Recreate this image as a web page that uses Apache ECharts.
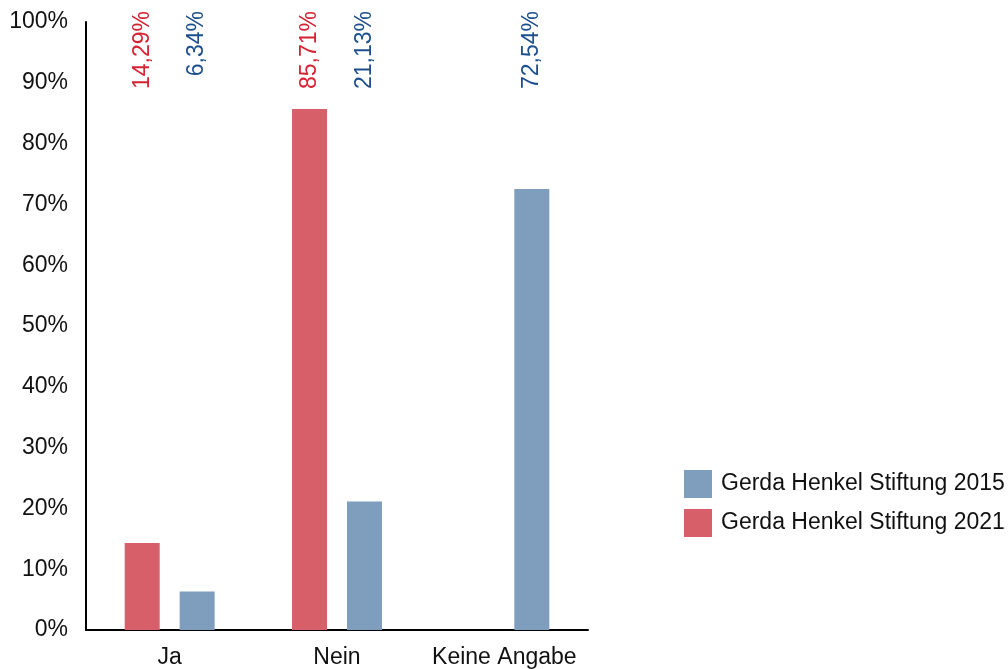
<!DOCTYPE html>
<html>
  <head>
    <meta charset="utf-8" />
    <title>Gerda Henkel Stiftung</title>
    <script src="https://cdn.jsdelivr.net/npm/echarts@6/dist/echarts.min.js"></script>
    <style>
      * {
        margin: 0;
        padding: 0;
        box-sizing: border-box;
      }
    </style>
  </head>
  <body>
    <div id="main" style="width: 1008px; height: 669px"></div>
    <script type="text/javascript">
      var myChart = echarts.init(document.getElementById("main"));

      const categories = ["Ja", "Nein", "Keine Angabe"];
      const values2021 = [14.29, 85.71, null];
      const values2015 = [6.34, 21.13, 72.54];
      const labelTop = [100, 100, 100]; // unsichtbare Träger für die Beschriftung oben
      const yTicks = [0, 10, 20, 30, 40, 50, 60, 70, 80, 90, 100];

      const font = "Liberation Sans, Arial, sans-serif";
      const red = "#d75f6a";
      const blue = "#7f9ebd";
      const redText = "#d42333";
      const blueText = "#1d4f8c";

      const fmt = (v) => v.toFixed(2).replace(".", ",") + "%";

      function labelSeries(name, src, color) {
        return {
          name: name + "_label",
          type: "bar",
          xAxisIndex: 1,
          barWidth: 35,
          barGap: "57%",
          silent: true,
          itemStyle: { color: "transparent" },
          label: {
            show: true,
            position: "insideTop",
            rotate: 90,
            align: "right",
            verticalAlign: "middle",
            distance: -11,
            color: color,
            fontSize: 23,
            fontFamily: font,
            formatter: (p) => (src[p.dataIndex] == null ? "" : fmt(src[p.dataIndex])),
          },
          data: labelTop.map((v, i) => (src[i] == null ? null : v)),
        };
      }

      var option = {
        animation: false,
        grid: { left: 86, right: 420, top: 22, bottom: 39 },
        legend: {
          orient: "vertical",
          left: 679,
          top: 465,
          itemWidth: 28,
          itemHeight: 28,
          itemGap: 11,
          icon: "rect",
          data: ["Gerda Henkel Stiftung 2015", "Gerda Henkel Stiftung 2021"],
          textStyle: {
            fontSize: 23,
            fontFamily: font,
            color: "#111",
            padding: [2, 0, 0, 4],
          },
        },
        xAxis: [
          {
            type: "category",
            data: categories,
            axisLine: { lineStyle: { color: "#000", width: 2 } },
            axisTick: { show: false },
            axisLabel: {
              interval: 0,
              fontSize: 23,
              fontFamily: font,
              color: "#111",
              margin: 16,
            },
          },
          {
            type: "category",
            data: categories,
            show: false,
          },
        ],
        yAxis: {
          type: "value",
          min: yTicks[0],
          max: yTicks[yTicks.length - 1],
          interval: 10,
          axisLine: { show: true, lineStyle: { color: "#000", width: 2 } },
          axisTick: { show: false },
          splitLine: { show: false },
          axisLabel: {
            formatter: "{value}%",
            fontSize: 23,
            fontFamily: font,
            color: "#111",
            margin: 18,
          },
        },
        series: [
          {
            name: "Gerda Henkel Stiftung 2021",
            type: "bar",
            barWidth: 35,
            barGap: "57%",
            itemStyle: { color: red },
            data: values2021,
          },
          {
            name: "Gerda Henkel Stiftung 2015",
            type: "bar",
            barWidth: 35,
            barGap: "57%",
            itemStyle: { color: blue },
            data: values2015,
          },
          labelSeries("2021", values2021, redText),
          labelSeries("2015", values2015, blueText),
        ],
      };

      myChart.setOption(option);
    </script>
  </body>
</html>
